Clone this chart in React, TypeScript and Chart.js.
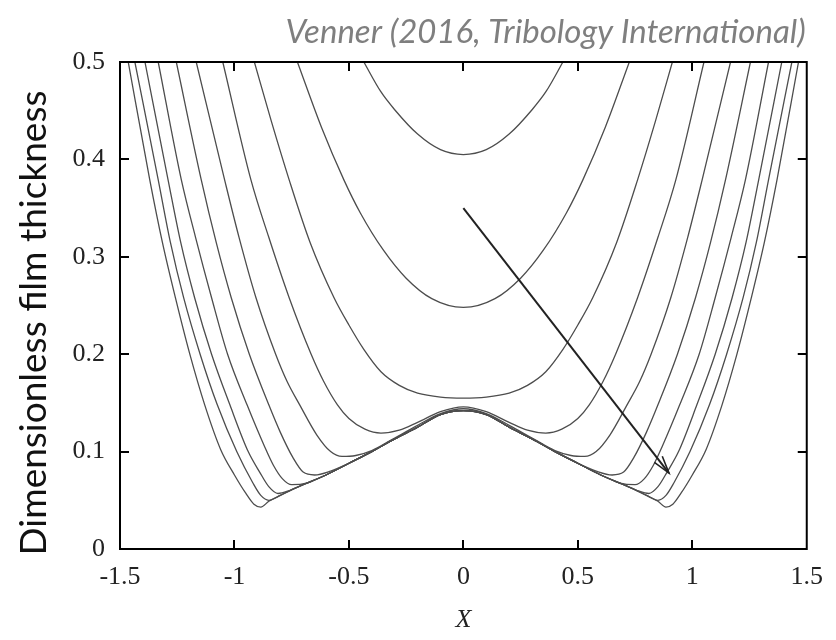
import React, { useEffect, useRef } from "react";
import { Chart, registerables } from "chart.js";

Chart.register(...registerables);

// ---- text ----
const titleText = "Venner (2016, Tribology International)";
const yTitleText = "Dimensionless film thickness";
const xTitleText = "X";

// ---- ticks ----
const xTickValues = [-1.5, -1, -0.5, 0, 0.5, 1, 1.5];
const xTickLabels = ["-1.5", "-1", "-0.5", "0", "0.5", "1", "1.5"];
const yTickValues = [0, 0.1, 0.2, 0.3, 0.4, 0.5];
const yTickLabels = ["0", "0.1", "0.2", "0.3", "0.4", "0.5"];

// ---- arrow (data coords) ----
const arrowFrom = [0, 0.35];
const arrowTo = [0.898, 0.078];

// ---- film-thickness profiles, right half (X >= 0); symmetric about X = 0 ----
const curve1: number[][] = [[0, 0.405], [0.1, 0.41], [0.2, 0.426], [0.3, 0.451], [0.362, 0.47], [0.435, 0.5]];
const curve2: number[][] = [[0, 0.248], [0.138, 0.257], [0.25, 0.278], [0.35, 0.307], [0.45, 0.345], [0.522, 0.379], [0.62, 0.433], [0.725, 0.5]];
const curve3: number[][] = [[0, 0.155], [0.1, 0.156], [0.2, 0.16], [0.28, 0.168], [0.36, 0.182], [0.435, 0.205], [0.5, 0.23], [0.565, 0.258], [0.67, 0.315], [0.761, 0.379], [0.84, 0.44], [0.913, 0.5]];
const curve4: number[][] = [[0, 0.146], [0.1, 0.141], [0.2, 0.13], [0.28, 0.122], [0.36, 0.119], [0.43, 0.123], [0.5, 0.134], [0.55, 0.148], [0.61, 0.172], [0.665, 0.2], [0.761, 0.258], [0.85, 0.32], [0.928, 0.379], [1.051, 0.5]];
const curve5: number[][] = [[0, 0.144], [0.1, 0.139], [0.2, 0.127], [0.3, 0.114], [0.4, 0.101], [0.47, 0.096], [0.53, 0.095], [0.58, 0.1], [0.64, 0.117], [0.715, 0.148], [0.77, 0.172], [0.82, 0.2], [0.906, 0.258], [0.98, 0.32], [1.043, 0.379], [1.167, 0.5]];
const curve6: number[][] = [[0, 0.142], [0.1, 0.138], [0.2, 0.125], [0.3, 0.113], [0.4, 0.1], [0.5, 0.088], [0.58, 0.08], [0.65, 0.076], [0.7, 0.079], [0.745, 0.094], [0.8, 0.12], [0.85, 0.148], [0.935, 0.2], [1.014, 0.258], [1.08, 0.315], [1.145, 0.379], [1.254, 0.5]];
const curve7: number[][] = [[0, 0.142], [0.1, 0.138], [0.2, 0.125], [0.3, 0.113], [0.4, 0.1], [0.5, 0.088], [0.6, 0.076], [0.68, 0.068], [0.75, 0.066], [0.79, 0.072], [0.83, 0.086], [0.87, 0.106], [0.945, 0.148], [1.03, 0.2], [1.1, 0.258], [1.17, 0.32], [1.232, 0.379], [1.333, 0.5]];
const curve8: number[][] = [[0, 0.142], [0.1, 0.138], [0.2, 0.125], [0.3, 0.113], [0.4, 0.1], [0.5, 0.088], [0.6, 0.076], [0.7, 0.066], [0.76, 0.06], [0.81, 0.057], [0.85, 0.064], [0.89, 0.079], [0.94, 0.1], [1.02, 0.148], [1.1, 0.2], [1.174, 0.258], [1.235, 0.315], [1.29, 0.379], [1.391, 0.5]];
const curve9: number[][] = [[0, 0.142], [0.1, 0.138], [0.2, 0.125], [0.3, 0.113], [0.4, 0.1], [0.5, 0.088], [0.6, 0.076], [0.7, 0.066], [0.75, 0.061], [0.8, 0.055], [0.85, 0.05], [0.885, 0.055], [0.92, 0.068], [0.99, 0.1], [1.075, 0.148], [1.15, 0.2], [1.222, 0.258], [1.28, 0.315], [1.333, 0.379], [1.435, 0.5]];
const curve10: number[][] = [[0, 0.142], [0.1, 0.138], [0.2, 0.125], [0.3, 0.113], [0.4, 0.1], [0.5, 0.088], [0.6, 0.076], [0.7, 0.066], [0.8, 0.055], [0.85, 0.049], [0.885, 0.043], [0.915, 0.046], [0.95, 0.057], [1.0, 0.076], [1.06, 0.102], [1.13, 0.148], [1.195, 0.2], [1.258, 0.258], [1.315, 0.315], [1.37, 0.379], [1.464, 0.5]];

const curves = [curve1, curve2, curve3, curve4, curve5, curve6, curve7, curve8, curve9, curve10];

function mirror(half: number[][]) {
  const left = half
    .slice(1)
    .reverse()
    .map(([x, y]) => ({ x: -x, y }));
  const right = half.map(([x, y]) => ({ x, y }));
  return [...left, ...right];
}

const framePlugin = {
  id: "frame",
  afterDatasetsDraw(chart: any) {
    const { ctx, chartArea, scales } = chart;
    const xs = scales.x;
    const ys = scales.y;
    const { left, right, top, bottom } = chartArea;
    ctx.save();

    // arrow
    const x0 = xs.getPixelForValue(arrowFrom[0]);
    const y0 = ys.getPixelForValue(arrowFrom[1]);
    const x1 = xs.getPixelForValue(arrowTo[0]);
    const y1 = ys.getPixelForValue(arrowTo[1]);
    ctx.strokeStyle = "#222";
    ctx.lineWidth = 2;
    ctx.beginPath();
    ctx.moveTo(x0, y0);
    ctx.lineTo(x1, y1);
    ctx.stroke();
    const ang = Math.atan2(y1 - y0, x1 - x0);
    const hl = 18;
    const spread = 0.28;
    ctx.lineWidth = 1.6;
    ctx.beginPath();
    ctx.moveTo(x1 - hl * Math.cos(ang - spread), y1 - hl * Math.sin(ang - spread));
    ctx.lineTo(x1, y1);
    ctx.lineTo(x1 - hl * Math.cos(ang + spread), y1 - hl * Math.sin(ang + spread));
    ctx.stroke();

    // box
    ctx.strokeStyle = "#000";
    ctx.lineWidth = 2;
    ctx.strokeRect(left, top, right - left, bottom - top);

    // inward ticks on all four sides
    const tl = 9;
    ctx.beginPath();
    xTickValues.forEach((v, i) => {
      if (i === 0 || i === xTickValues.length - 1) return;
      const px = Math.round(xs.getPixelForValue(v));
      ctx.moveTo(px, bottom);
      ctx.lineTo(px, bottom - tl);
      ctx.moveTo(px, top);
      ctx.lineTo(px, top + tl);
    });
    yTickValues.forEach((v, i) => {
      if (i === 0 || i === yTickValues.length - 1) return;
      const py = Math.round(ys.getPixelForValue(v));
      ctx.moveTo(left, py);
      ctx.lineTo(left + tl, py);
      ctx.moveTo(right, py);
      ctx.lineTo(right - tl, py);
    });
    ctx.stroke();
    ctx.restore();
  },
  afterDraw(chart: any) {
    const { ctx, chartArea } = chart;
    ctx.save();
    // top-right citation
    ctx.font = "italic 33px Lato";
    ctx.fillStyle = "#7f7f7f";
    ctx.textAlign = "right";
    ctx.textBaseline = "alphabetic";
    ctx.fillText(titleText, chartArea.right - 1, 43);

    // y title
    ctx.font = "37px Lato";
    ctx.fillStyle = "#111";
    ctx.textAlign = "center";
    ctx.textBaseline = "middle";
    ctx.translate(34, 323);
    ctx.rotate(-Math.PI / 2);
    ctx.fillText(yTitleText, 0, 0);
    ctx.restore();

    ctx.save();
    ctx.font = "italic 26px 'Liberation Serif'";
    ctx.fillStyle = "#222";
    ctx.textAlign = "center";
    ctx.textBaseline = "middle";
    ctx.fillText(xTitleText, (chartArea.left + chartArea.right) / 2, 620);
    ctx.restore();
  },
};

export default function App() {
  const canvasRef = useRef<HTMLCanvasElement | null>(null);

  useEffect(() => {
    const canvas = canvasRef.current;
    if (!canvas) return;
    const chart = new Chart(canvas, {
      type: "line",
      data: {
        datasets: curves.map((c, i) => ({
          label: "curve " + (i + 1),
          data: mirror(c),
          borderColor: "#4d4d4d",
          borderWidth: 1.3,
          pointRadius: 0,
          fill: false,
          cubicInterpolationMode: "monotone" as const,
        })),
      },
      options: {
        animation: false,
        responsive: false,
        layout: { padding: { left: 0, right: 26, top: 62, bottom: 0 } },
        plugins: {
          legend: { display: false },
          tooltip: { enabled: false },
          title: { display: false },
        },
        scales: {
          x: {
            type: "linear",
            min: -1.5,
            max: 1.5,
            grid: { display: false, drawTicks: false },
            border: { display: false },
            afterBuildTicks: (scale: any) => {
              scale.ticks = xTickValues.map((v) => ({ value: v }));
            },
            afterFit: (scale: any) => {
              scale.height = 91;
            },
            ticks: {
              autoSkip: false,
              maxRotation: 0,
              padding: 13,
              color: "#222",
              font: { family: "'Liberation Serif'", size: 26 },
              callback: (v: any) => {
                const i = xTickValues.indexOf(Number(v));
                return i >= 0 ? xTickLabels[i] : "";
              },
            },
          },
          y: {
            type: "linear",
            min: 0,
            max: 0.5,
            grid: { display: false, drawTicks: false },
            border: { display: false },
            afterBuildTicks: (scale: any) => {
              scale.ticks = yTickValues.map((v) => ({ value: v }));
            },
            afterFit: (scale: any) => {
              scale.width = 120;
            },
            ticks: {
              autoSkip: false,
              padding: 15,
              color: "#222",
              font: { family: "'Liberation Serif'", size: 26 },
              callback: (v: any) => {
                const i = yTickValues.findIndex((t) => Math.abs(t - Number(v)) < 1e-9);
                return i >= 0 ? yTickLabels[i] : "";
              },
            },
          },
        },
      },
      plugins: [framePlugin],
    });
    return () => chart.destroy();
  }, []);

  return (
    <div style={{ position: "fixed", left: 0, top: 0, width: 836, height: 640, background: "#fff" }}>
      <canvas ref={canvasRef} width={836} height={640} />
    </div>
  );
}
